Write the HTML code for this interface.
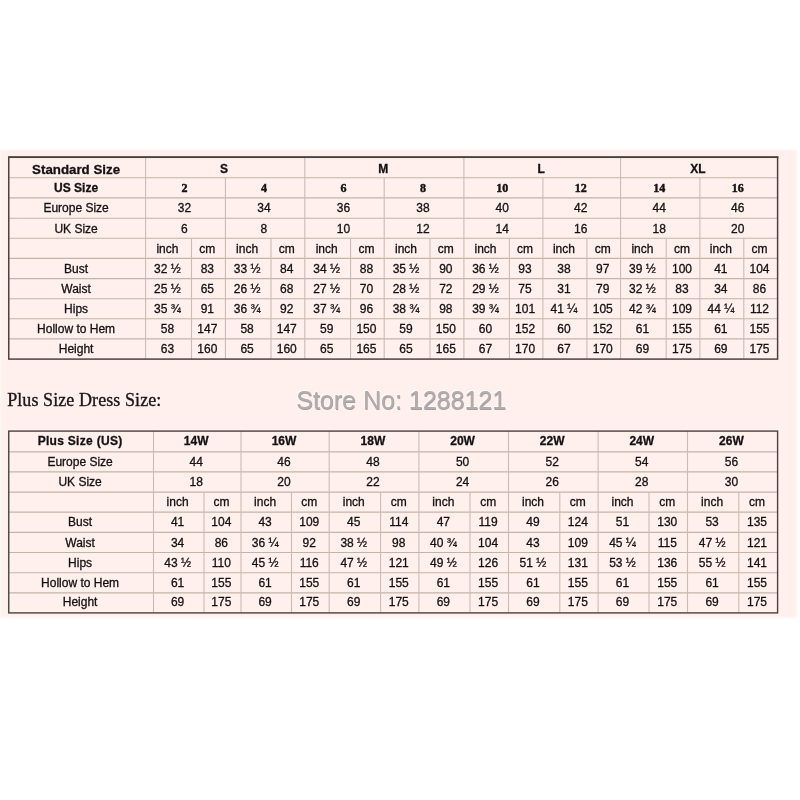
<!DOCTYPE html>
<html><head><meta charset="utf-8"><title>Size Chart</title>
<style>
html,body{margin:0;padding:0;background:#fff;}
body{width:800px;height:800px;position:relative;overflow:hidden;font-family:"Liberation Sans",Arial,sans-serif;}
#pink{position:absolute;left:0;top:148px;width:800px;height:472px;background:#fff0ed;}
#pink i{position:absolute;display:block;}
#pink .t{left:0;top:-0.5px;width:800px;height:3.2px;background:linear-gradient(to bottom,#fff 15%,rgba(255,255,255,0));}
#pink .b{left:0;bottom:0;width:800px;height:4px;background:linear-gradient(to top,#fff 20%,rgba(255,255,255,0));}
#pink .r{right:0;top:0;width:5px;height:472px;background:linear-gradient(to left,#fff 24%,rgba(255,255,255,0));}
#pink .l{left:0;top:0;width:2.2px;height:472px;background:linear-gradient(to right,rgba(250,248,242,.9) 60%,rgba(250,248,242,0));}
svg{position:absolute;left:0;top:0;}
#cells{position:absolute;left:0;top:0;width:800px;height:800px;transform:rotate(0.001deg);transform-origin:400px 400px;}
#cells div{position:absolute;text-align:center;white-space:nowrap;font-size:12px;color:#141212;-webkit-text-stroke:0.3px #141212;}
#cells div.b13{font-weight:bold;font-size:13.3px;}
#cells div.b12{font-weight:bold;font-size:12px;}
#cells div.sb{-webkit-text-stroke-width:0.45px;font-weight:bold;font-size:12px;font-family:"Liberation Serif","Times New Roman",serif;}
#plus{position:absolute;letter-spacing:0.08px;left:7.2px;top:389.6px;-webkit-text-stroke:0.35px #1a1818;font-family:"Liberation Serif","Times New Roman",serif;font-size:18px;line-height:21px;color:#1a1818;white-space:nowrap;}
#store{position:absolute;left:1.2px;width:800px;top:386px;text-align:center;font-size:25px;line-height:29px;color:#b2adad;-webkit-text-stroke:0.15px #b0aaaa;text-shadow:0.5px 0.5px 0.6px rgba(110,100,100,.6),-0.8px -0.8px 1px #fff;white-space:nowrap;}
</style></head><body>
<div id="pink"><i class="l"></i><i class="r"></i><i class="t"></i><i class="b"></i></div>
<svg width="800" height="800" viewBox="0 0 800 800">
<line x1="8.8" y1="177.8" x2="777.4" y2="177.8" stroke="#c3b4a9" stroke-width="1.1"/>
<line x1="8.8" y1="197.9" x2="777.4" y2="197.9" stroke="#c3b4a9" stroke-width="1.1"/>
<line x1="8.8" y1="218.2" x2="777.4" y2="218.2" stroke="#c3b4a9" stroke-width="1.1"/>
<line x1="8.8" y1="238.2" x2="777.4" y2="238.2" stroke="#c3b4a9" stroke-width="1.1"/>
<line x1="8.8" y1="258.4" x2="777.4" y2="258.4" stroke="#c3b4a9" stroke-width="1.1"/>
<line x1="8.8" y1="278.6" x2="777.4" y2="278.6" stroke="#c3b4a9" stroke-width="1.1"/>
<line x1="8.8" y1="298.8" x2="777.4" y2="298.8" stroke="#c3b4a9" stroke-width="1.1"/>
<line x1="8.8" y1="318.8" x2="777.4" y2="318.8" stroke="#c3b4a9" stroke-width="1.1"/>
<line x1="8.8" y1="338.9" x2="777.4" y2="338.9" stroke="#c3b4a9" stroke-width="1.1"/>
<line x1="145.6" y1="157.4" x2="145.6" y2="177.8" stroke="#c9bcb4" stroke-width="1.1"/>
<line x1="304.8" y1="157.4" x2="304.8" y2="177.8" stroke="#c9bcb4" stroke-width="1.1"/>
<line x1="463.9" y1="157.4" x2="463.9" y2="177.8" stroke="#c9bcb4" stroke-width="1.1"/>
<line x1="620.6" y1="157.4" x2="620.6" y2="177.8" stroke="#c9bcb4" stroke-width="1.1"/>
<line x1="145.6" y1="177.8" x2="145.6" y2="197.9" stroke="#c9bcb4" stroke-width="1.1"/>
<line x1="225.4" y1="177.8" x2="225.4" y2="197.9" stroke="#c9bcb4" stroke-width="1.1"/>
<line x1="304.8" y1="177.8" x2="304.8" y2="197.9" stroke="#c9bcb4" stroke-width="1.1"/>
<line x1="384.2" y1="177.8" x2="384.2" y2="197.9" stroke="#c9bcb4" stroke-width="1.1"/>
<line x1="463.9" y1="177.8" x2="463.9" y2="197.9" stroke="#c9bcb4" stroke-width="1.1"/>
<line x1="542.9" y1="177.8" x2="542.9" y2="197.9" stroke="#c9bcb4" stroke-width="1.1"/>
<line x1="620.6" y1="177.8" x2="620.6" y2="197.9" stroke="#c9bcb4" stroke-width="1.1"/>
<line x1="699.9" y1="177.8" x2="699.9" y2="197.9" stroke="#c9bcb4" stroke-width="1.1"/>
<line x1="145.6" y1="197.9" x2="145.6" y2="218.2" stroke="#c9bcb4" stroke-width="1.1"/>
<line x1="225.4" y1="197.9" x2="225.4" y2="218.2" stroke="#c9bcb4" stroke-width="1.1"/>
<line x1="304.8" y1="197.9" x2="304.8" y2="218.2" stroke="#c9bcb4" stroke-width="1.1"/>
<line x1="384.2" y1="197.9" x2="384.2" y2="218.2" stroke="#c9bcb4" stroke-width="1.1"/>
<line x1="463.9" y1="197.9" x2="463.9" y2="218.2" stroke="#c9bcb4" stroke-width="1.1"/>
<line x1="542.9" y1="197.9" x2="542.9" y2="218.2" stroke="#c9bcb4" stroke-width="1.1"/>
<line x1="620.6" y1="197.9" x2="620.6" y2="218.2" stroke="#c9bcb4" stroke-width="1.1"/>
<line x1="699.9" y1="197.9" x2="699.9" y2="218.2" stroke="#c9bcb4" stroke-width="1.1"/>
<line x1="145.6" y1="218.2" x2="145.6" y2="238.2" stroke="#c9bcb4" stroke-width="1.1"/>
<line x1="225.4" y1="218.2" x2="225.4" y2="238.2" stroke="#c9bcb4" stroke-width="1.1"/>
<line x1="304.8" y1="218.2" x2="304.8" y2="238.2" stroke="#c9bcb4" stroke-width="1.1"/>
<line x1="384.2" y1="218.2" x2="384.2" y2="238.2" stroke="#c9bcb4" stroke-width="1.1"/>
<line x1="463.9" y1="218.2" x2="463.9" y2="238.2" stroke="#c9bcb4" stroke-width="1.1"/>
<line x1="542.9" y1="218.2" x2="542.9" y2="238.2" stroke="#c9bcb4" stroke-width="1.1"/>
<line x1="620.6" y1="218.2" x2="620.6" y2="238.2" stroke="#c9bcb4" stroke-width="1.1"/>
<line x1="699.9" y1="218.2" x2="699.9" y2="238.2" stroke="#c9bcb4" stroke-width="1.1"/>
<line x1="145.6" y1="238.2" x2="145.6" y2="258.4" stroke="#c9bcb4" stroke-width="1.1"/>
<line x1="191.5" y1="238.2" x2="191.5" y2="258.4" stroke="#c9bcb4" stroke-width="1.1"/>
<line x1="225.4" y1="238.2" x2="225.4" y2="258.4" stroke="#c9bcb4" stroke-width="1.1"/>
<line x1="271.0" y1="238.2" x2="271.0" y2="258.4" stroke="#c9bcb4" stroke-width="1.1"/>
<line x1="304.8" y1="238.2" x2="304.8" y2="258.4" stroke="#c9bcb4" stroke-width="1.1"/>
<line x1="350.6" y1="238.2" x2="350.6" y2="258.4" stroke="#c9bcb4" stroke-width="1.1"/>
<line x1="384.2" y1="238.2" x2="384.2" y2="258.4" stroke="#c9bcb4" stroke-width="1.1"/>
<line x1="430.0" y1="238.2" x2="430.0" y2="258.4" stroke="#c9bcb4" stroke-width="1.1"/>
<line x1="463.9" y1="238.2" x2="463.9" y2="258.4" stroke="#c9bcb4" stroke-width="1.1"/>
<line x1="509.4" y1="238.2" x2="509.4" y2="258.4" stroke="#c9bcb4" stroke-width="1.1"/>
<line x1="542.9" y1="238.2" x2="542.9" y2="258.4" stroke="#c9bcb4" stroke-width="1.1"/>
<line x1="586.9" y1="238.2" x2="586.9" y2="258.4" stroke="#c9bcb4" stroke-width="1.1"/>
<line x1="620.6" y1="238.2" x2="620.6" y2="258.4" stroke="#c9bcb4" stroke-width="1.1"/>
<line x1="666.2" y1="238.2" x2="666.2" y2="258.4" stroke="#c9bcb4" stroke-width="1.1"/>
<line x1="699.9" y1="238.2" x2="699.9" y2="258.4" stroke="#c9bcb4" stroke-width="1.1"/>
<line x1="743.8" y1="238.2" x2="743.8" y2="258.4" stroke="#c9bcb4" stroke-width="1.1"/>
<line x1="145.6" y1="258.4" x2="145.6" y2="278.6" stroke="#c9bcb4" stroke-width="1.1"/>
<line x1="191.5" y1="258.4" x2="191.5" y2="278.6" stroke="#c9bcb4" stroke-width="1.1"/>
<line x1="225.4" y1="258.4" x2="225.4" y2="278.6" stroke="#c9bcb4" stroke-width="1.1"/>
<line x1="271.0" y1="258.4" x2="271.0" y2="278.6" stroke="#c9bcb4" stroke-width="1.1"/>
<line x1="304.8" y1="258.4" x2="304.8" y2="278.6" stroke="#c9bcb4" stroke-width="1.1"/>
<line x1="350.6" y1="258.4" x2="350.6" y2="278.6" stroke="#c9bcb4" stroke-width="1.1"/>
<line x1="384.2" y1="258.4" x2="384.2" y2="278.6" stroke="#c9bcb4" stroke-width="1.1"/>
<line x1="430.0" y1="258.4" x2="430.0" y2="278.6" stroke="#c9bcb4" stroke-width="1.1"/>
<line x1="463.9" y1="258.4" x2="463.9" y2="278.6" stroke="#c9bcb4" stroke-width="1.1"/>
<line x1="509.4" y1="258.4" x2="509.4" y2="278.6" stroke="#c9bcb4" stroke-width="1.1"/>
<line x1="542.9" y1="258.4" x2="542.9" y2="278.6" stroke="#c9bcb4" stroke-width="1.1"/>
<line x1="586.9" y1="258.4" x2="586.9" y2="278.6" stroke="#c9bcb4" stroke-width="1.1"/>
<line x1="620.6" y1="258.4" x2="620.6" y2="278.6" stroke="#c9bcb4" stroke-width="1.1"/>
<line x1="666.2" y1="258.4" x2="666.2" y2="278.6" stroke="#c9bcb4" stroke-width="1.1"/>
<line x1="699.9" y1="258.4" x2="699.9" y2="278.6" stroke="#c9bcb4" stroke-width="1.1"/>
<line x1="743.8" y1="258.4" x2="743.8" y2="278.6" stroke="#c9bcb4" stroke-width="1.1"/>
<line x1="145.6" y1="278.6" x2="145.6" y2="298.8" stroke="#c9bcb4" stroke-width="1.1"/>
<line x1="191.5" y1="278.6" x2="191.5" y2="298.8" stroke="#c9bcb4" stroke-width="1.1"/>
<line x1="225.4" y1="278.6" x2="225.4" y2="298.8" stroke="#c9bcb4" stroke-width="1.1"/>
<line x1="271.0" y1="278.6" x2="271.0" y2="298.8" stroke="#c9bcb4" stroke-width="1.1"/>
<line x1="304.8" y1="278.6" x2="304.8" y2="298.8" stroke="#c9bcb4" stroke-width="1.1"/>
<line x1="350.6" y1="278.6" x2="350.6" y2="298.8" stroke="#c9bcb4" stroke-width="1.1"/>
<line x1="384.2" y1="278.6" x2="384.2" y2="298.8" stroke="#c9bcb4" stroke-width="1.1"/>
<line x1="430.0" y1="278.6" x2="430.0" y2="298.8" stroke="#c9bcb4" stroke-width="1.1"/>
<line x1="463.9" y1="278.6" x2="463.9" y2="298.8" stroke="#c9bcb4" stroke-width="1.1"/>
<line x1="509.4" y1="278.6" x2="509.4" y2="298.8" stroke="#c9bcb4" stroke-width="1.1"/>
<line x1="542.9" y1="278.6" x2="542.9" y2="298.8" stroke="#c9bcb4" stroke-width="1.1"/>
<line x1="586.9" y1="278.6" x2="586.9" y2="298.8" stroke="#c9bcb4" stroke-width="1.1"/>
<line x1="620.6" y1="278.6" x2="620.6" y2="298.8" stroke="#c9bcb4" stroke-width="1.1"/>
<line x1="666.2" y1="278.6" x2="666.2" y2="298.8" stroke="#c9bcb4" stroke-width="1.1"/>
<line x1="699.9" y1="278.6" x2="699.9" y2="298.8" stroke="#c9bcb4" stroke-width="1.1"/>
<line x1="743.8" y1="278.6" x2="743.8" y2="298.8" stroke="#c9bcb4" stroke-width="1.1"/>
<line x1="145.6" y1="298.8" x2="145.6" y2="318.8" stroke="#c9bcb4" stroke-width="1.1"/>
<line x1="191.5" y1="298.8" x2="191.5" y2="318.8" stroke="#c9bcb4" stroke-width="1.1"/>
<line x1="225.4" y1="298.8" x2="225.4" y2="318.8" stroke="#c9bcb4" stroke-width="1.1"/>
<line x1="271.0" y1="298.8" x2="271.0" y2="318.8" stroke="#c9bcb4" stroke-width="1.1"/>
<line x1="304.8" y1="298.8" x2="304.8" y2="318.8" stroke="#c9bcb4" stroke-width="1.1"/>
<line x1="350.6" y1="298.8" x2="350.6" y2="318.8" stroke="#c9bcb4" stroke-width="1.1"/>
<line x1="384.2" y1="298.8" x2="384.2" y2="318.8" stroke="#c9bcb4" stroke-width="1.1"/>
<line x1="430.0" y1="298.8" x2="430.0" y2="318.8" stroke="#c9bcb4" stroke-width="1.1"/>
<line x1="463.9" y1="298.8" x2="463.9" y2="318.8" stroke="#c9bcb4" stroke-width="1.1"/>
<line x1="509.4" y1="298.8" x2="509.4" y2="318.8" stroke="#c9bcb4" stroke-width="1.1"/>
<line x1="542.9" y1="298.8" x2="542.9" y2="318.8" stroke="#c9bcb4" stroke-width="1.1"/>
<line x1="586.9" y1="298.8" x2="586.9" y2="318.8" stroke="#c9bcb4" stroke-width="1.1"/>
<line x1="620.6" y1="298.8" x2="620.6" y2="318.8" stroke="#c9bcb4" stroke-width="1.1"/>
<line x1="666.2" y1="298.8" x2="666.2" y2="318.8" stroke="#c9bcb4" stroke-width="1.1"/>
<line x1="699.9" y1="298.8" x2="699.9" y2="318.8" stroke="#c9bcb4" stroke-width="1.1"/>
<line x1="743.8" y1="298.8" x2="743.8" y2="318.8" stroke="#c9bcb4" stroke-width="1.1"/>
<line x1="145.6" y1="318.8" x2="145.6" y2="338.9" stroke="#c9bcb4" stroke-width="1.1"/>
<line x1="191.5" y1="318.8" x2="191.5" y2="338.9" stroke="#c9bcb4" stroke-width="1.1"/>
<line x1="225.4" y1="318.8" x2="225.4" y2="338.9" stroke="#c9bcb4" stroke-width="1.1"/>
<line x1="271.0" y1="318.8" x2="271.0" y2="338.9" stroke="#c9bcb4" stroke-width="1.1"/>
<line x1="304.8" y1="318.8" x2="304.8" y2="338.9" stroke="#c9bcb4" stroke-width="1.1"/>
<line x1="350.6" y1="318.8" x2="350.6" y2="338.9" stroke="#c9bcb4" stroke-width="1.1"/>
<line x1="384.2" y1="318.8" x2="384.2" y2="338.9" stroke="#c9bcb4" stroke-width="1.1"/>
<line x1="430.0" y1="318.8" x2="430.0" y2="338.9" stroke="#c9bcb4" stroke-width="1.1"/>
<line x1="463.9" y1="318.8" x2="463.9" y2="338.9" stroke="#c9bcb4" stroke-width="1.1"/>
<line x1="509.4" y1="318.8" x2="509.4" y2="338.9" stroke="#c9bcb4" stroke-width="1.1"/>
<line x1="542.9" y1="318.8" x2="542.9" y2="338.9" stroke="#c9bcb4" stroke-width="1.1"/>
<line x1="586.9" y1="318.8" x2="586.9" y2="338.9" stroke="#c9bcb4" stroke-width="1.1"/>
<line x1="620.6" y1="318.8" x2="620.6" y2="338.9" stroke="#c9bcb4" stroke-width="1.1"/>
<line x1="666.2" y1="318.8" x2="666.2" y2="338.9" stroke="#c9bcb4" stroke-width="1.1"/>
<line x1="699.9" y1="318.8" x2="699.9" y2="338.9" stroke="#c9bcb4" stroke-width="1.1"/>
<line x1="743.8" y1="318.8" x2="743.8" y2="338.9" stroke="#c9bcb4" stroke-width="1.1"/>
<line x1="145.6" y1="338.9" x2="145.6" y2="359.1" stroke="#c9bcb4" stroke-width="1.1"/>
<line x1="191.5" y1="338.9" x2="191.5" y2="359.1" stroke="#c9bcb4" stroke-width="1.1"/>
<line x1="225.4" y1="338.9" x2="225.4" y2="359.1" stroke="#c9bcb4" stroke-width="1.1"/>
<line x1="271.0" y1="338.9" x2="271.0" y2="359.1" stroke="#c9bcb4" stroke-width="1.1"/>
<line x1="304.8" y1="338.9" x2="304.8" y2="359.1" stroke="#c9bcb4" stroke-width="1.1"/>
<line x1="350.6" y1="338.9" x2="350.6" y2="359.1" stroke="#c9bcb4" stroke-width="1.1"/>
<line x1="384.2" y1="338.9" x2="384.2" y2="359.1" stroke="#c9bcb4" stroke-width="1.1"/>
<line x1="430.0" y1="338.9" x2="430.0" y2="359.1" stroke="#c9bcb4" stroke-width="1.1"/>
<line x1="463.9" y1="338.9" x2="463.9" y2="359.1" stroke="#c9bcb4" stroke-width="1.1"/>
<line x1="509.4" y1="338.9" x2="509.4" y2="359.1" stroke="#c9bcb4" stroke-width="1.1"/>
<line x1="542.9" y1="338.9" x2="542.9" y2="359.1" stroke="#c9bcb4" stroke-width="1.1"/>
<line x1="586.9" y1="338.9" x2="586.9" y2="359.1" stroke="#c9bcb4" stroke-width="1.1"/>
<line x1="620.6" y1="338.9" x2="620.6" y2="359.1" stroke="#c9bcb4" stroke-width="1.1"/>
<line x1="666.2" y1="338.9" x2="666.2" y2="359.1" stroke="#c9bcb4" stroke-width="1.1"/>
<line x1="699.9" y1="338.9" x2="699.9" y2="359.1" stroke="#c9bcb4" stroke-width="1.1"/>
<line x1="743.8" y1="338.9" x2="743.8" y2="359.1" stroke="#c9bcb4" stroke-width="1.1"/>
<rect x="8.75" y="157.30" width="768.85" height="201.80" fill="none" stroke="#4a4242" stroke-width="1.5"/>
<line x1="8.0" y1="157.1" x2="778.4" y2="157.1" stroke="#4a4242" stroke-width="1.9"/>
<line x1="8.8" y1="451.9" x2="777.4" y2="451.9" stroke="#c3b4a9" stroke-width="1.1"/>
<line x1="8.8" y1="471.9" x2="777.4" y2="471.9" stroke="#c3b4a9" stroke-width="1.1"/>
<line x1="8.8" y1="492.1" x2="777.4" y2="492.1" stroke="#c3b4a9" stroke-width="1.1"/>
<line x1="8.8" y1="512.1" x2="777.4" y2="512.1" stroke="#c3b4a9" stroke-width="1.1"/>
<line x1="8.8" y1="532.4" x2="777.4" y2="532.4" stroke="#c3b4a9" stroke-width="1.1"/>
<line x1="8.8" y1="552.5" x2="777.4" y2="552.5" stroke="#c3b4a9" stroke-width="1.1"/>
<line x1="8.8" y1="572.7" x2="777.4" y2="572.7" stroke="#c3b4a9" stroke-width="1.1"/>
<line x1="8.8" y1="592.9" x2="777.4" y2="592.9" stroke="#c3b4a9" stroke-width="1.1"/>
<line x1="153.5" y1="431.0" x2="153.5" y2="451.9" stroke="#c9bcb4" stroke-width="1.1"/>
<line x1="241.0" y1="431.0" x2="241.0" y2="451.9" stroke="#c9bcb4" stroke-width="1.1"/>
<line x1="329.2" y1="431.0" x2="329.2" y2="451.9" stroke="#c9bcb4" stroke-width="1.1"/>
<line x1="418.9" y1="431.0" x2="418.9" y2="451.9" stroke="#c9bcb4" stroke-width="1.1"/>
<line x1="508.5" y1="431.0" x2="508.5" y2="451.9" stroke="#c9bcb4" stroke-width="1.1"/>
<line x1="598.1" y1="431.0" x2="598.1" y2="451.9" stroke="#c9bcb4" stroke-width="1.1"/>
<line x1="687.5" y1="431.0" x2="687.5" y2="451.9" stroke="#c9bcb4" stroke-width="1.1"/>
<line x1="153.5" y1="451.9" x2="153.5" y2="471.9" stroke="#c9bcb4" stroke-width="1.1"/>
<line x1="241.0" y1="451.9" x2="241.0" y2="471.9" stroke="#c9bcb4" stroke-width="1.1"/>
<line x1="329.2" y1="451.9" x2="329.2" y2="471.9" stroke="#c9bcb4" stroke-width="1.1"/>
<line x1="418.9" y1="451.9" x2="418.9" y2="471.9" stroke="#c9bcb4" stroke-width="1.1"/>
<line x1="508.5" y1="451.9" x2="508.5" y2="471.9" stroke="#c9bcb4" stroke-width="1.1"/>
<line x1="598.1" y1="451.9" x2="598.1" y2="471.9" stroke="#c9bcb4" stroke-width="1.1"/>
<line x1="687.5" y1="451.9" x2="687.5" y2="471.9" stroke="#c9bcb4" stroke-width="1.1"/>
<line x1="153.5" y1="471.9" x2="153.5" y2="492.1" stroke="#c9bcb4" stroke-width="1.1"/>
<line x1="241.0" y1="471.9" x2="241.0" y2="492.1" stroke="#c9bcb4" stroke-width="1.1"/>
<line x1="329.2" y1="471.9" x2="329.2" y2="492.1" stroke="#c9bcb4" stroke-width="1.1"/>
<line x1="418.9" y1="471.9" x2="418.9" y2="492.1" stroke="#c9bcb4" stroke-width="1.1"/>
<line x1="508.5" y1="471.9" x2="508.5" y2="492.1" stroke="#c9bcb4" stroke-width="1.1"/>
<line x1="598.1" y1="471.9" x2="598.1" y2="492.1" stroke="#c9bcb4" stroke-width="1.1"/>
<line x1="687.5" y1="471.9" x2="687.5" y2="492.1" stroke="#c9bcb4" stroke-width="1.1"/>
<line x1="153.5" y1="492.1" x2="153.5" y2="512.1" stroke="#c9bcb4" stroke-width="1.1"/>
<line x1="204.0" y1="492.1" x2="204.0" y2="512.1" stroke="#c9bcb4" stroke-width="1.1"/>
<line x1="241.0" y1="492.1" x2="241.0" y2="512.1" stroke="#c9bcb4" stroke-width="1.1"/>
<line x1="291.5" y1="492.1" x2="291.5" y2="512.1" stroke="#c9bcb4" stroke-width="1.1"/>
<line x1="329.2" y1="492.1" x2="329.2" y2="512.1" stroke="#c9bcb4" stroke-width="1.1"/>
<line x1="380.6" y1="492.1" x2="380.6" y2="512.1" stroke="#c9bcb4" stroke-width="1.1"/>
<line x1="418.9" y1="492.1" x2="418.9" y2="512.1" stroke="#c9bcb4" stroke-width="1.1"/>
<line x1="470.0" y1="492.1" x2="470.0" y2="512.1" stroke="#c9bcb4" stroke-width="1.1"/>
<line x1="508.5" y1="492.1" x2="508.5" y2="512.1" stroke="#c9bcb4" stroke-width="1.1"/>
<line x1="559.8" y1="492.1" x2="559.8" y2="512.1" stroke="#c9bcb4" stroke-width="1.1"/>
<line x1="598.1" y1="492.1" x2="598.1" y2="512.1" stroke="#c9bcb4" stroke-width="1.1"/>
<line x1="649.0" y1="492.1" x2="649.0" y2="512.1" stroke="#c9bcb4" stroke-width="1.1"/>
<line x1="687.5" y1="492.1" x2="687.5" y2="512.1" stroke="#c9bcb4" stroke-width="1.1"/>
<line x1="738.8" y1="492.1" x2="738.8" y2="512.1" stroke="#c9bcb4" stroke-width="1.1"/>
<line x1="153.5" y1="512.1" x2="153.5" y2="532.4" stroke="#c9bcb4" stroke-width="1.1"/>
<line x1="204.0" y1="512.1" x2="204.0" y2="532.4" stroke="#c9bcb4" stroke-width="1.1"/>
<line x1="241.0" y1="512.1" x2="241.0" y2="532.4" stroke="#c9bcb4" stroke-width="1.1"/>
<line x1="291.5" y1="512.1" x2="291.5" y2="532.4" stroke="#c9bcb4" stroke-width="1.1"/>
<line x1="329.2" y1="512.1" x2="329.2" y2="532.4" stroke="#c9bcb4" stroke-width="1.1"/>
<line x1="380.6" y1="512.1" x2="380.6" y2="532.4" stroke="#c9bcb4" stroke-width="1.1"/>
<line x1="418.9" y1="512.1" x2="418.9" y2="532.4" stroke="#c9bcb4" stroke-width="1.1"/>
<line x1="470.0" y1="512.1" x2="470.0" y2="532.4" stroke="#c9bcb4" stroke-width="1.1"/>
<line x1="508.5" y1="512.1" x2="508.5" y2="532.4" stroke="#c9bcb4" stroke-width="1.1"/>
<line x1="559.8" y1="512.1" x2="559.8" y2="532.4" stroke="#c9bcb4" stroke-width="1.1"/>
<line x1="598.1" y1="512.1" x2="598.1" y2="532.4" stroke="#c9bcb4" stroke-width="1.1"/>
<line x1="649.0" y1="512.1" x2="649.0" y2="532.4" stroke="#c9bcb4" stroke-width="1.1"/>
<line x1="687.5" y1="512.1" x2="687.5" y2="532.4" stroke="#c9bcb4" stroke-width="1.1"/>
<line x1="738.8" y1="512.1" x2="738.8" y2="532.4" stroke="#c9bcb4" stroke-width="1.1"/>
<line x1="153.5" y1="532.4" x2="153.5" y2="552.5" stroke="#c9bcb4" stroke-width="1.1"/>
<line x1="204.0" y1="532.4" x2="204.0" y2="552.5" stroke="#c9bcb4" stroke-width="1.1"/>
<line x1="241.0" y1="532.4" x2="241.0" y2="552.5" stroke="#c9bcb4" stroke-width="1.1"/>
<line x1="291.5" y1="532.4" x2="291.5" y2="552.5" stroke="#c9bcb4" stroke-width="1.1"/>
<line x1="329.2" y1="532.4" x2="329.2" y2="552.5" stroke="#c9bcb4" stroke-width="1.1"/>
<line x1="380.6" y1="532.4" x2="380.6" y2="552.5" stroke="#c9bcb4" stroke-width="1.1"/>
<line x1="418.9" y1="532.4" x2="418.9" y2="552.5" stroke="#c9bcb4" stroke-width="1.1"/>
<line x1="470.0" y1="532.4" x2="470.0" y2="552.5" stroke="#c9bcb4" stroke-width="1.1"/>
<line x1="508.5" y1="532.4" x2="508.5" y2="552.5" stroke="#c9bcb4" stroke-width="1.1"/>
<line x1="559.8" y1="532.4" x2="559.8" y2="552.5" stroke="#c9bcb4" stroke-width="1.1"/>
<line x1="598.1" y1="532.4" x2="598.1" y2="552.5" stroke="#c9bcb4" stroke-width="1.1"/>
<line x1="649.0" y1="532.4" x2="649.0" y2="552.5" stroke="#c9bcb4" stroke-width="1.1"/>
<line x1="687.5" y1="532.4" x2="687.5" y2="552.5" stroke="#c9bcb4" stroke-width="1.1"/>
<line x1="738.8" y1="532.4" x2="738.8" y2="552.5" stroke="#c9bcb4" stroke-width="1.1"/>
<line x1="153.5" y1="552.5" x2="153.5" y2="572.7" stroke="#c9bcb4" stroke-width="1.1"/>
<line x1="204.0" y1="552.5" x2="204.0" y2="572.7" stroke="#c9bcb4" stroke-width="1.1"/>
<line x1="241.0" y1="552.5" x2="241.0" y2="572.7" stroke="#c9bcb4" stroke-width="1.1"/>
<line x1="291.5" y1="552.5" x2="291.5" y2="572.7" stroke="#c9bcb4" stroke-width="1.1"/>
<line x1="329.2" y1="552.5" x2="329.2" y2="572.7" stroke="#c9bcb4" stroke-width="1.1"/>
<line x1="380.6" y1="552.5" x2="380.6" y2="572.7" stroke="#c9bcb4" stroke-width="1.1"/>
<line x1="418.9" y1="552.5" x2="418.9" y2="572.7" stroke="#c9bcb4" stroke-width="1.1"/>
<line x1="470.0" y1="552.5" x2="470.0" y2="572.7" stroke="#c9bcb4" stroke-width="1.1"/>
<line x1="508.5" y1="552.5" x2="508.5" y2="572.7" stroke="#c9bcb4" stroke-width="1.1"/>
<line x1="559.8" y1="552.5" x2="559.8" y2="572.7" stroke="#c9bcb4" stroke-width="1.1"/>
<line x1="598.1" y1="552.5" x2="598.1" y2="572.7" stroke="#c9bcb4" stroke-width="1.1"/>
<line x1="649.0" y1="552.5" x2="649.0" y2="572.7" stroke="#c9bcb4" stroke-width="1.1"/>
<line x1="687.5" y1="552.5" x2="687.5" y2="572.7" stroke="#c9bcb4" stroke-width="1.1"/>
<line x1="738.8" y1="552.5" x2="738.8" y2="572.7" stroke="#c9bcb4" stroke-width="1.1"/>
<line x1="153.5" y1="572.7" x2="153.5" y2="592.9" stroke="#c9bcb4" stroke-width="1.1"/>
<line x1="204.0" y1="572.7" x2="204.0" y2="592.9" stroke="#c9bcb4" stroke-width="1.1"/>
<line x1="241.0" y1="572.7" x2="241.0" y2="592.9" stroke="#c9bcb4" stroke-width="1.1"/>
<line x1="291.5" y1="572.7" x2="291.5" y2="592.9" stroke="#c9bcb4" stroke-width="1.1"/>
<line x1="329.2" y1="572.7" x2="329.2" y2="592.9" stroke="#c9bcb4" stroke-width="1.1"/>
<line x1="380.6" y1="572.7" x2="380.6" y2="592.9" stroke="#c9bcb4" stroke-width="1.1"/>
<line x1="418.9" y1="572.7" x2="418.9" y2="592.9" stroke="#c9bcb4" stroke-width="1.1"/>
<line x1="470.0" y1="572.7" x2="470.0" y2="592.9" stroke="#c9bcb4" stroke-width="1.1"/>
<line x1="508.5" y1="572.7" x2="508.5" y2="592.9" stroke="#c9bcb4" stroke-width="1.1"/>
<line x1="559.8" y1="572.7" x2="559.8" y2="592.9" stroke="#c9bcb4" stroke-width="1.1"/>
<line x1="598.1" y1="572.7" x2="598.1" y2="592.9" stroke="#c9bcb4" stroke-width="1.1"/>
<line x1="649.0" y1="572.7" x2="649.0" y2="592.9" stroke="#c9bcb4" stroke-width="1.1"/>
<line x1="687.5" y1="572.7" x2="687.5" y2="592.9" stroke="#c9bcb4" stroke-width="1.1"/>
<line x1="738.8" y1="572.7" x2="738.8" y2="592.9" stroke="#c9bcb4" stroke-width="1.1"/>
<line x1="153.5" y1="592.9" x2="153.5" y2="612.8" stroke="#c9bcb4" stroke-width="1.1"/>
<line x1="204.0" y1="592.9" x2="204.0" y2="612.8" stroke="#c9bcb4" stroke-width="1.1"/>
<line x1="241.0" y1="592.9" x2="241.0" y2="612.8" stroke="#c9bcb4" stroke-width="1.1"/>
<line x1="291.5" y1="592.9" x2="291.5" y2="612.8" stroke="#c9bcb4" stroke-width="1.1"/>
<line x1="329.2" y1="592.9" x2="329.2" y2="612.8" stroke="#c9bcb4" stroke-width="1.1"/>
<line x1="380.6" y1="592.9" x2="380.6" y2="612.8" stroke="#c9bcb4" stroke-width="1.1"/>
<line x1="418.9" y1="592.9" x2="418.9" y2="612.8" stroke="#c9bcb4" stroke-width="1.1"/>
<line x1="470.0" y1="592.9" x2="470.0" y2="612.8" stroke="#c9bcb4" stroke-width="1.1"/>
<line x1="508.5" y1="592.9" x2="508.5" y2="612.8" stroke="#c9bcb4" stroke-width="1.1"/>
<line x1="559.8" y1="592.9" x2="559.8" y2="612.8" stroke="#c9bcb4" stroke-width="1.1"/>
<line x1="598.1" y1="592.9" x2="598.1" y2="612.8" stroke="#c9bcb4" stroke-width="1.1"/>
<line x1="649.0" y1="592.9" x2="649.0" y2="612.8" stroke="#c9bcb4" stroke-width="1.1"/>
<line x1="687.5" y1="592.9" x2="687.5" y2="612.8" stroke="#c9bcb4" stroke-width="1.1"/>
<line x1="738.8" y1="592.9" x2="738.8" y2="612.8" stroke="#c9bcb4" stroke-width="1.1"/>
<rect x="8.75" y="431.10" width="768.85" height="181.80" fill="none" stroke="#4a4242" stroke-width="1.4"/>
</svg>
<div id="cells">
<div class="b13" style="left:7.7px;top:159.6px;width:136.8px;height:20.4px;line-height:20.4px">Standard Size</div>
<div class="b12" style="left:144.5px;top:158.5px;width:159.2px;height:20.4px;line-height:20.4px">S</div>
<div class="b12" style="left:303.7px;top:158.5px;width:159.1px;height:20.4px;line-height:20.4px">M</div>
<div class="b12" style="left:462.8px;top:158.5px;width:156.7px;height:20.4px;line-height:20.4px">L</div>
<div class="b12" style="left:619.6px;top:158.5px;width:156.8px;height:20.4px;line-height:20.4px">XL</div>
<div class="b12" style="left:7.7px;top:178.1px;width:136.8px;height:20.1px;line-height:20.1px">US Size</div>
<div class="sb" style="left:144.5px;top:178.3px;width:79.8px;height:20.1px;line-height:20.1px">2</div>
<div class="sb" style="left:224.3px;top:178.3px;width:79.3px;height:20.1px;line-height:20.1px">4</div>
<div class="sb" style="left:303.7px;top:178.3px;width:79.4px;height:20.1px;line-height:20.1px">6</div>
<div class="sb" style="left:383.1px;top:178.3px;width:79.7px;height:20.1px;line-height:20.1px">8</div>
<div class="sb" style="left:462.8px;top:178.3px;width:79.0px;height:20.1px;line-height:20.1px">10</div>
<div class="sb" style="left:541.9px;top:178.3px;width:77.7px;height:20.1px;line-height:20.1px">12</div>
<div class="sb" style="left:619.6px;top:178.3px;width:79.3px;height:20.1px;line-height:20.1px">14</div>
<div class="sb" style="left:698.9px;top:178.3px;width:77.5px;height:20.1px;line-height:20.1px">16</div>
<div style="left:7.7px;top:198.2px;width:136.8px;height:20.3px;line-height:20.3px">Europe Size</div>
<div style="left:144.5px;top:198.2px;width:79.8px;height:20.3px;line-height:20.3px">32</div>
<div style="left:224.3px;top:198.2px;width:79.3px;height:20.3px;line-height:20.3px">34</div>
<div style="left:303.7px;top:198.2px;width:79.4px;height:20.3px;line-height:20.3px">36</div>
<div style="left:383.1px;top:198.2px;width:79.7px;height:20.3px;line-height:20.3px">38</div>
<div style="left:462.8px;top:198.2px;width:79.0px;height:20.3px;line-height:20.3px">40</div>
<div style="left:541.9px;top:198.2px;width:77.7px;height:20.3px;line-height:20.3px">42</div>
<div style="left:619.6px;top:198.2px;width:79.3px;height:20.3px;line-height:20.3px">44</div>
<div style="left:698.9px;top:198.2px;width:77.5px;height:20.3px;line-height:20.3px">46</div>
<div style="left:7.7px;top:218.5px;width:136.8px;height:20.0px;line-height:20.0px">UK Size</div>
<div style="left:144.5px;top:218.5px;width:79.8px;height:20.0px;line-height:20.0px">6</div>
<div style="left:224.3px;top:218.5px;width:79.3px;height:20.0px;line-height:20.0px">8</div>
<div style="left:303.7px;top:218.5px;width:79.4px;height:20.0px;line-height:20.0px">10</div>
<div style="left:383.1px;top:218.5px;width:79.7px;height:20.0px;line-height:20.0px">12</div>
<div style="left:462.8px;top:218.5px;width:79.0px;height:20.0px;line-height:20.0px">14</div>
<div style="left:541.9px;top:218.5px;width:77.7px;height:20.0px;line-height:20.0px">16</div>
<div style="left:619.6px;top:218.5px;width:79.3px;height:20.0px;line-height:20.0px">18</div>
<div style="left:698.9px;top:218.5px;width:77.5px;height:20.0px;line-height:20.0px">20</div>
<div style="left:144.5px;top:238.5px;width:45.9px;height:20.2px;line-height:20.2px">inch</div>
<div style="left:190.4px;top:238.5px;width:33.9px;height:20.2px;line-height:20.2px">cm</div>
<div style="left:224.3px;top:238.5px;width:45.6px;height:20.2px;line-height:20.2px">inch</div>
<div style="left:269.9px;top:238.5px;width:33.8px;height:20.2px;line-height:20.2px">cm</div>
<div style="left:303.7px;top:238.5px;width:45.9px;height:20.2px;line-height:20.2px">inch</div>
<div style="left:349.6px;top:238.5px;width:33.6px;height:20.2px;line-height:20.2px">cm</div>
<div style="left:383.1px;top:238.5px;width:45.8px;height:20.2px;line-height:20.2px">inch</div>
<div style="left:428.9px;top:238.5px;width:33.9px;height:20.2px;line-height:20.2px">cm</div>
<div style="left:462.8px;top:238.5px;width:45.5px;height:20.2px;line-height:20.2px">inch</div>
<div style="left:508.3px;top:238.5px;width:33.5px;height:20.2px;line-height:20.2px">cm</div>
<div style="left:541.9px;top:238.5px;width:44.0px;height:20.2px;line-height:20.2px">inch</div>
<div style="left:585.9px;top:238.5px;width:33.7px;height:20.2px;line-height:20.2px">cm</div>
<div style="left:619.6px;top:238.5px;width:45.6px;height:20.2px;line-height:20.2px">inch</div>
<div style="left:665.2px;top:238.5px;width:33.6px;height:20.2px;line-height:20.2px">cm</div>
<div style="left:698.9px;top:238.5px;width:43.9px;height:20.2px;line-height:20.2px">inch</div>
<div style="left:742.7px;top:238.5px;width:33.6px;height:20.2px;line-height:20.2px">cm</div>
<div style="left:7.7px;top:258.7px;width:136.8px;height:20.2px;line-height:20.2px">Bust</div>
<div style="left:144.5px;top:258.7px;width:45.9px;height:20.2px;line-height:20.2px">32 ½</div>
<div style="left:190.4px;top:258.7px;width:33.9px;height:20.2px;line-height:20.2px">83</div>
<div style="left:224.3px;top:258.7px;width:45.6px;height:20.2px;line-height:20.2px">33 ½</div>
<div style="left:269.9px;top:258.7px;width:33.8px;height:20.2px;line-height:20.2px">84</div>
<div style="left:303.7px;top:258.7px;width:45.9px;height:20.2px;line-height:20.2px">34 ½</div>
<div style="left:349.6px;top:258.7px;width:33.6px;height:20.2px;line-height:20.2px">88</div>
<div style="left:383.1px;top:258.7px;width:45.8px;height:20.2px;line-height:20.2px">35 ½</div>
<div style="left:428.9px;top:258.7px;width:33.9px;height:20.2px;line-height:20.2px">90</div>
<div style="left:462.8px;top:258.7px;width:45.5px;height:20.2px;line-height:20.2px">36 ½</div>
<div style="left:508.3px;top:258.7px;width:33.5px;height:20.2px;line-height:20.2px">93</div>
<div style="left:541.9px;top:258.7px;width:44.0px;height:20.2px;line-height:20.2px">38</div>
<div style="left:585.9px;top:258.7px;width:33.7px;height:20.2px;line-height:20.2px">97</div>
<div style="left:619.6px;top:258.7px;width:45.6px;height:20.2px;line-height:20.2px">39 ½</div>
<div style="left:665.2px;top:258.7px;width:33.6px;height:20.2px;line-height:20.2px">100</div>
<div style="left:698.9px;top:258.7px;width:43.9px;height:20.2px;line-height:20.2px">41</div>
<div style="left:742.7px;top:258.7px;width:33.6px;height:20.2px;line-height:20.2px">104</div>
<div style="left:7.7px;top:278.9px;width:136.8px;height:20.2px;line-height:20.2px">Waist</div>
<div style="left:144.5px;top:278.9px;width:45.9px;height:20.2px;line-height:20.2px">25 ½</div>
<div style="left:190.4px;top:278.9px;width:33.9px;height:20.2px;line-height:20.2px">65</div>
<div style="left:224.3px;top:278.9px;width:45.6px;height:20.2px;line-height:20.2px">26 ½</div>
<div style="left:269.9px;top:278.9px;width:33.8px;height:20.2px;line-height:20.2px">68</div>
<div style="left:303.7px;top:278.9px;width:45.9px;height:20.2px;line-height:20.2px">27 ½</div>
<div style="left:349.6px;top:278.9px;width:33.6px;height:20.2px;line-height:20.2px">70</div>
<div style="left:383.1px;top:278.9px;width:45.8px;height:20.2px;line-height:20.2px">28 ½</div>
<div style="left:428.9px;top:278.9px;width:33.9px;height:20.2px;line-height:20.2px">72</div>
<div style="left:462.8px;top:278.9px;width:45.5px;height:20.2px;line-height:20.2px">29 ½</div>
<div style="left:508.3px;top:278.9px;width:33.5px;height:20.2px;line-height:20.2px">75</div>
<div style="left:541.9px;top:278.9px;width:44.0px;height:20.2px;line-height:20.2px">31</div>
<div style="left:585.9px;top:278.9px;width:33.7px;height:20.2px;line-height:20.2px">79</div>
<div style="left:619.6px;top:278.9px;width:45.6px;height:20.2px;line-height:20.2px">32 ½</div>
<div style="left:665.2px;top:278.9px;width:33.6px;height:20.2px;line-height:20.2px">83</div>
<div style="left:698.9px;top:278.9px;width:43.9px;height:20.2px;line-height:20.2px">34</div>
<div style="left:742.7px;top:278.9px;width:33.6px;height:20.2px;line-height:20.2px">86</div>
<div style="left:7.7px;top:299.1px;width:136.8px;height:20.0px;line-height:20.0px">Hips</div>
<div style="left:144.5px;top:299.1px;width:45.9px;height:20.0px;line-height:20.0px">35 ¾</div>
<div style="left:190.4px;top:299.1px;width:33.9px;height:20.0px;line-height:20.0px">91</div>
<div style="left:224.3px;top:299.1px;width:45.6px;height:20.0px;line-height:20.0px">36 ¾</div>
<div style="left:269.9px;top:299.1px;width:33.8px;height:20.0px;line-height:20.0px">92</div>
<div style="left:303.7px;top:299.1px;width:45.9px;height:20.0px;line-height:20.0px">37 ¾</div>
<div style="left:349.6px;top:299.1px;width:33.6px;height:20.0px;line-height:20.0px">96</div>
<div style="left:383.1px;top:299.1px;width:45.8px;height:20.0px;line-height:20.0px">38 ¾</div>
<div style="left:428.9px;top:299.1px;width:33.9px;height:20.0px;line-height:20.0px">98</div>
<div style="left:462.8px;top:299.1px;width:45.5px;height:20.0px;line-height:20.0px">39 ¾</div>
<div style="left:508.3px;top:299.1px;width:33.5px;height:20.0px;line-height:20.0px">101</div>
<div style="left:541.9px;top:299.1px;width:44.0px;height:20.0px;line-height:20.0px">41 ¼</div>
<div style="left:585.9px;top:299.1px;width:33.7px;height:20.0px;line-height:20.0px">105</div>
<div style="left:619.6px;top:299.1px;width:45.6px;height:20.0px;line-height:20.0px">42 ¾</div>
<div style="left:665.2px;top:299.1px;width:33.6px;height:20.0px;line-height:20.0px">109</div>
<div style="left:698.9px;top:299.1px;width:43.9px;height:20.0px;line-height:20.0px">44 ¼</div>
<div style="left:742.7px;top:299.1px;width:33.6px;height:20.0px;line-height:20.0px">112</div>
<div style="left:7.7px;top:319.1px;width:136.8px;height:20.1px;line-height:20.1px">Hollow to Hem</div>
<div style="left:144.5px;top:319.1px;width:45.9px;height:20.1px;line-height:20.1px">58</div>
<div style="left:190.4px;top:319.1px;width:33.9px;height:20.1px;line-height:20.1px">147</div>
<div style="left:224.3px;top:319.1px;width:45.6px;height:20.1px;line-height:20.1px">58</div>
<div style="left:269.9px;top:319.1px;width:33.8px;height:20.1px;line-height:20.1px">147</div>
<div style="left:303.7px;top:319.1px;width:45.9px;height:20.1px;line-height:20.1px">59</div>
<div style="left:349.6px;top:319.1px;width:33.6px;height:20.1px;line-height:20.1px">150</div>
<div style="left:383.1px;top:319.1px;width:45.8px;height:20.1px;line-height:20.1px">59</div>
<div style="left:428.9px;top:319.1px;width:33.9px;height:20.1px;line-height:20.1px">150</div>
<div style="left:462.8px;top:319.1px;width:45.5px;height:20.1px;line-height:20.1px">60</div>
<div style="left:508.3px;top:319.1px;width:33.5px;height:20.1px;line-height:20.1px">152</div>
<div style="left:541.9px;top:319.1px;width:44.0px;height:20.1px;line-height:20.1px">60</div>
<div style="left:585.9px;top:319.1px;width:33.7px;height:20.1px;line-height:20.1px">152</div>
<div style="left:619.6px;top:319.1px;width:45.6px;height:20.1px;line-height:20.1px">61</div>
<div style="left:665.2px;top:319.1px;width:33.6px;height:20.1px;line-height:20.1px">155</div>
<div style="left:698.9px;top:319.1px;width:43.9px;height:20.1px;line-height:20.1px">61</div>
<div style="left:742.7px;top:319.1px;width:33.6px;height:20.1px;line-height:20.1px">155</div>
<div style="left:7.7px;top:339.2px;width:136.8px;height:20.2px;line-height:20.2px">Height</div>
<div style="left:144.5px;top:339.2px;width:45.9px;height:20.2px;line-height:20.2px">63</div>
<div style="left:190.4px;top:339.2px;width:33.9px;height:20.2px;line-height:20.2px">160</div>
<div style="left:224.3px;top:339.2px;width:45.6px;height:20.2px;line-height:20.2px">65</div>
<div style="left:269.9px;top:339.2px;width:33.8px;height:20.2px;line-height:20.2px">160</div>
<div style="left:303.7px;top:339.2px;width:45.9px;height:20.2px;line-height:20.2px">65</div>
<div style="left:349.6px;top:339.2px;width:33.6px;height:20.2px;line-height:20.2px">165</div>
<div style="left:383.1px;top:339.2px;width:45.8px;height:20.2px;line-height:20.2px">65</div>
<div style="left:428.9px;top:339.2px;width:33.9px;height:20.2px;line-height:20.2px">165</div>
<div style="left:462.8px;top:339.2px;width:45.5px;height:20.2px;line-height:20.2px">67</div>
<div style="left:508.3px;top:339.2px;width:33.5px;height:20.2px;line-height:20.2px">170</div>
<div style="left:541.9px;top:339.2px;width:44.0px;height:20.2px;line-height:20.2px">67</div>
<div style="left:585.9px;top:339.2px;width:33.7px;height:20.2px;line-height:20.2px">170</div>
<div style="left:619.6px;top:339.2px;width:45.6px;height:20.2px;line-height:20.2px">69</div>
<div style="left:665.2px;top:339.2px;width:33.6px;height:20.2px;line-height:20.2px">175</div>
<div style="left:698.9px;top:339.2px;width:43.9px;height:20.2px;line-height:20.2px">69</div>
<div style="left:742.7px;top:339.2px;width:33.6px;height:20.2px;line-height:20.2px">175</div>
<div class="b12" style="left:7.7px;top:431.1px;width:144.8px;height:20.9px;line-height:20.9px"><span style="letter-spacing:0.3px">Plus Size (US)</span></div>
<div class="b12" style="left:152.4px;top:431.1px;width:87.5px;height:20.9px;line-height:20.9px">14W</div>
<div class="b12" style="left:239.9px;top:431.1px;width:88.2px;height:20.9px;line-height:20.9px">16W</div>
<div class="b12" style="left:328.1px;top:431.1px;width:89.7px;height:20.9px;line-height:20.9px">18W</div>
<div class="b12" style="left:417.8px;top:431.1px;width:89.6px;height:20.9px;line-height:20.9px">20W</div>
<div class="b12" style="left:507.4px;top:431.1px;width:89.6px;height:20.9px;line-height:20.9px">22W</div>
<div class="b12" style="left:597.1px;top:431.1px;width:89.4px;height:20.9px;line-height:20.9px">24W</div>
<div class="b12" style="left:686.5px;top:431.1px;width:89.9px;height:20.9px;line-height:20.9px">26W</div>
<div style="left:7.7px;top:452.0px;width:144.8px;height:20.0px;line-height:20.0px">Europe Size</div>
<div style="left:152.4px;top:452.0px;width:87.5px;height:20.0px;line-height:20.0px">44</div>
<div style="left:239.9px;top:452.0px;width:88.2px;height:20.0px;line-height:20.0px">46</div>
<div style="left:328.1px;top:452.0px;width:89.7px;height:20.0px;line-height:20.0px">48</div>
<div style="left:417.8px;top:452.0px;width:89.6px;height:20.0px;line-height:20.0px">50</div>
<div style="left:507.4px;top:452.0px;width:89.6px;height:20.0px;line-height:20.0px">52</div>
<div style="left:597.1px;top:452.0px;width:89.4px;height:20.0px;line-height:20.0px">54</div>
<div style="left:686.5px;top:452.0px;width:89.9px;height:20.0px;line-height:20.0px">56</div>
<div style="left:7.7px;top:472.0px;width:144.8px;height:20.2px;line-height:20.2px">UK Size</div>
<div style="left:152.4px;top:472.0px;width:87.5px;height:20.2px;line-height:20.2px">18</div>
<div style="left:239.9px;top:472.0px;width:88.2px;height:20.2px;line-height:20.2px">20</div>
<div style="left:328.1px;top:472.0px;width:89.7px;height:20.2px;line-height:20.2px">22</div>
<div style="left:417.8px;top:472.0px;width:89.6px;height:20.2px;line-height:20.2px">24</div>
<div style="left:507.4px;top:472.0px;width:89.6px;height:20.2px;line-height:20.2px">26</div>
<div style="left:597.1px;top:472.0px;width:89.4px;height:20.2px;line-height:20.2px">28</div>
<div style="left:686.5px;top:472.0px;width:89.9px;height:20.2px;line-height:20.2px">30</div>
<div style="left:152.4px;top:492.2px;width:50.5px;height:20.0px;line-height:20.0px">inch</div>
<div style="left:202.9px;top:492.2px;width:37.0px;height:20.0px;line-height:20.0px">cm</div>
<div style="left:239.9px;top:492.2px;width:50.5px;height:20.0px;line-height:20.0px">inch</div>
<div style="left:290.4px;top:492.2px;width:37.7px;height:20.0px;line-height:20.0px">cm</div>
<div style="left:328.1px;top:492.2px;width:51.4px;height:20.0px;line-height:20.0px">inch</div>
<div style="left:379.6px;top:492.2px;width:38.3px;height:20.0px;line-height:20.0px">cm</div>
<div style="left:417.8px;top:492.2px;width:51.1px;height:20.0px;line-height:20.0px">inch</div>
<div style="left:468.9px;top:492.2px;width:38.5px;height:20.0px;line-height:20.0px">cm</div>
<div style="left:507.4px;top:492.2px;width:51.2px;height:20.0px;line-height:20.0px">inch</div>
<div style="left:558.7px;top:492.2px;width:38.4px;height:20.0px;line-height:20.0px">cm</div>
<div style="left:597.1px;top:492.2px;width:50.9px;height:20.0px;line-height:20.0px">inch</div>
<div style="left:648.0px;top:492.2px;width:38.5px;height:20.0px;line-height:20.0px">cm</div>
<div style="left:686.5px;top:492.2px;width:51.2px;height:20.0px;line-height:20.0px">inch</div>
<div style="left:737.7px;top:492.2px;width:38.6px;height:20.0px;line-height:20.0px">cm</div>
<div style="left:7.7px;top:512.2px;width:144.8px;height:20.3px;line-height:20.3px">Bust</div>
<div style="left:152.4px;top:512.2px;width:50.5px;height:20.3px;line-height:20.3px">41</div>
<div style="left:202.9px;top:512.2px;width:37.0px;height:20.3px;line-height:20.3px">104</div>
<div style="left:239.9px;top:512.2px;width:50.5px;height:20.3px;line-height:20.3px">43</div>
<div style="left:290.4px;top:512.2px;width:37.7px;height:20.3px;line-height:20.3px">109</div>
<div style="left:328.1px;top:512.2px;width:51.4px;height:20.3px;line-height:20.3px">45</div>
<div style="left:379.6px;top:512.2px;width:38.3px;height:20.3px;line-height:20.3px">114</div>
<div style="left:417.8px;top:512.2px;width:51.1px;height:20.3px;line-height:20.3px">47</div>
<div style="left:468.9px;top:512.2px;width:38.5px;height:20.3px;line-height:20.3px">119</div>
<div style="left:507.4px;top:512.2px;width:51.2px;height:20.3px;line-height:20.3px">49</div>
<div style="left:558.7px;top:512.2px;width:38.4px;height:20.3px;line-height:20.3px">124</div>
<div style="left:597.1px;top:512.2px;width:50.9px;height:20.3px;line-height:20.3px">51</div>
<div style="left:648.0px;top:512.2px;width:38.5px;height:20.3px;line-height:20.3px">130</div>
<div style="left:686.5px;top:512.2px;width:51.2px;height:20.3px;line-height:20.3px">53</div>
<div style="left:737.7px;top:512.2px;width:38.6px;height:20.3px;line-height:20.3px">135</div>
<div style="left:7.7px;top:532.5px;width:144.8px;height:20.1px;line-height:20.1px">Waist</div>
<div style="left:152.4px;top:532.5px;width:50.5px;height:20.1px;line-height:20.1px">34</div>
<div style="left:202.9px;top:532.5px;width:37.0px;height:20.1px;line-height:20.1px">86</div>
<div style="left:239.9px;top:532.5px;width:50.5px;height:20.1px;line-height:20.1px">36 ¼</div>
<div style="left:290.4px;top:532.5px;width:37.7px;height:20.1px;line-height:20.1px">92</div>
<div style="left:328.1px;top:532.5px;width:51.4px;height:20.1px;line-height:20.1px">38 ½</div>
<div style="left:379.6px;top:532.5px;width:38.3px;height:20.1px;line-height:20.1px">98</div>
<div style="left:417.8px;top:532.5px;width:51.1px;height:20.1px;line-height:20.1px">40 ¾</div>
<div style="left:468.9px;top:532.5px;width:38.5px;height:20.1px;line-height:20.1px">104</div>
<div style="left:507.4px;top:532.5px;width:51.2px;height:20.1px;line-height:20.1px">43</div>
<div style="left:558.7px;top:532.5px;width:38.4px;height:20.1px;line-height:20.1px">109</div>
<div style="left:597.1px;top:532.5px;width:50.9px;height:20.1px;line-height:20.1px">45 ¼</div>
<div style="left:648.0px;top:532.5px;width:38.5px;height:20.1px;line-height:20.1px">115</div>
<div style="left:686.5px;top:532.5px;width:51.2px;height:20.1px;line-height:20.1px">47 ½</div>
<div style="left:737.7px;top:532.5px;width:38.6px;height:20.1px;line-height:20.1px">121</div>
<div style="left:7.7px;top:552.6px;width:144.8px;height:20.2px;line-height:20.2px">Hips</div>
<div style="left:152.4px;top:552.6px;width:50.5px;height:20.2px;line-height:20.2px">43 ½</div>
<div style="left:202.9px;top:552.6px;width:37.0px;height:20.2px;line-height:20.2px">110</div>
<div style="left:239.9px;top:552.6px;width:50.5px;height:20.2px;line-height:20.2px">45 ½</div>
<div style="left:290.4px;top:552.6px;width:37.7px;height:20.2px;line-height:20.2px">116</div>
<div style="left:328.1px;top:552.6px;width:51.4px;height:20.2px;line-height:20.2px">47 ½</div>
<div style="left:379.6px;top:552.6px;width:38.3px;height:20.2px;line-height:20.2px">121</div>
<div style="left:417.8px;top:552.6px;width:51.1px;height:20.2px;line-height:20.2px">49 ½</div>
<div style="left:468.9px;top:552.6px;width:38.5px;height:20.2px;line-height:20.2px">126</div>
<div style="left:507.4px;top:552.6px;width:51.2px;height:20.2px;line-height:20.2px">51 ½</div>
<div style="left:558.7px;top:552.6px;width:38.4px;height:20.2px;line-height:20.2px">131</div>
<div style="left:597.1px;top:552.6px;width:50.9px;height:20.2px;line-height:20.2px">53 ½</div>
<div style="left:648.0px;top:552.6px;width:38.5px;height:20.2px;line-height:20.2px">136</div>
<div style="left:686.5px;top:552.6px;width:51.2px;height:20.2px;line-height:20.2px">55 ½</div>
<div style="left:737.7px;top:552.6px;width:38.6px;height:20.2px;line-height:20.2px">141</div>
<div style="left:7.7px;top:572.9px;width:144.8px;height:20.2px;line-height:20.2px">Hollow to Hem</div>
<div style="left:152.4px;top:572.9px;width:50.5px;height:20.2px;line-height:20.2px">61</div>
<div style="left:202.9px;top:572.9px;width:37.0px;height:20.2px;line-height:20.2px">155</div>
<div style="left:239.9px;top:572.9px;width:50.5px;height:20.2px;line-height:20.2px">61</div>
<div style="left:290.4px;top:572.9px;width:37.7px;height:20.2px;line-height:20.2px">155</div>
<div style="left:328.1px;top:572.9px;width:51.4px;height:20.2px;line-height:20.2px">61</div>
<div style="left:379.6px;top:572.9px;width:38.3px;height:20.2px;line-height:20.2px">155</div>
<div style="left:417.8px;top:572.9px;width:51.1px;height:20.2px;line-height:20.2px">61</div>
<div style="left:468.9px;top:572.9px;width:38.5px;height:20.2px;line-height:20.2px">155</div>
<div style="left:507.4px;top:572.9px;width:51.2px;height:20.2px;line-height:20.2px">61</div>
<div style="left:558.7px;top:572.9px;width:38.4px;height:20.2px;line-height:20.2px">155</div>
<div style="left:597.1px;top:572.9px;width:50.9px;height:20.2px;line-height:20.2px">61</div>
<div style="left:648.0px;top:572.9px;width:38.5px;height:20.2px;line-height:20.2px">155</div>
<div style="left:686.5px;top:572.9px;width:51.2px;height:20.2px;line-height:20.2px">61</div>
<div style="left:737.7px;top:572.9px;width:38.6px;height:20.2px;line-height:20.2px">155</div>
<div style="left:7.7px;top:593.0px;width:144.8px;height:19.9px;line-height:19.9px">Height</div>
<div style="left:152.4px;top:593.0px;width:50.5px;height:19.9px;line-height:19.9px">69</div>
<div style="left:202.9px;top:593.0px;width:37.0px;height:19.9px;line-height:19.9px">175</div>
<div style="left:239.9px;top:593.0px;width:50.5px;height:19.9px;line-height:19.9px">69</div>
<div style="left:290.4px;top:593.0px;width:37.7px;height:19.9px;line-height:19.9px">175</div>
<div style="left:328.1px;top:593.0px;width:51.4px;height:19.9px;line-height:19.9px">69</div>
<div style="left:379.6px;top:593.0px;width:38.3px;height:19.9px;line-height:19.9px">175</div>
<div style="left:417.8px;top:593.0px;width:51.1px;height:19.9px;line-height:19.9px">69</div>
<div style="left:468.9px;top:593.0px;width:38.5px;height:19.9px;line-height:19.9px">175</div>
<div style="left:507.4px;top:593.0px;width:51.2px;height:19.9px;line-height:19.9px">69</div>
<div style="left:558.7px;top:593.0px;width:38.4px;height:19.9px;line-height:19.9px">175</div>
<div style="left:597.1px;top:593.0px;width:50.9px;height:19.9px;line-height:19.9px">69</div>
<div style="left:648.0px;top:593.0px;width:38.5px;height:19.9px;line-height:19.9px">175</div>
<div style="left:686.5px;top:593.0px;width:51.2px;height:19.9px;line-height:19.9px">69</div>
<div style="left:737.7px;top:593.0px;width:38.6px;height:19.9px;line-height:19.9px">175</div>
</div>
<div id="plus">Plus Size Dress Size:</div>
<div id="store">Store No: 1288121</div>
</body></html>
